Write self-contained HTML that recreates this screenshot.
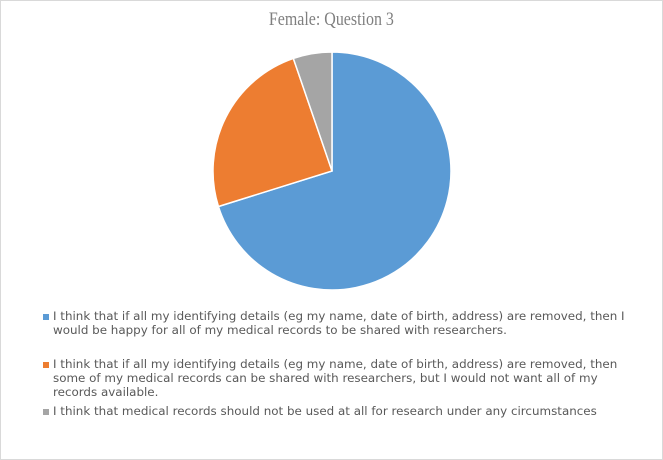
<!DOCTYPE html>
<html><head><meta charset="utf-8"><style>
body{margin:0;background:#fff;}
#c{position:relative;width:661px;height:458px;border:1px solid #d9d9d9;background:#fff;overflow:hidden;font-family:"DejaVu Sans","Liberation Sans",sans-serif;}
#title{position:absolute;left:0;width:661px;top:8px;text-align:center;font-family:"Liberation Serif",serif;font-size:19px;color:#7f7f7f;}
#title span{display:inline-block;transform:scaleX(0.84);}
.leg{position:absolute;left:52px;width:584px;font-size:11.9px;line-height:13.8px;color:#595959;}
.mk{position:absolute;left:-10px;top:4px;width:6px;height:6px;}
</style></head><body>
<div id="c">
<div id="title"><span>Female: Question 3</span></div>
<svg id="pie" width="661" height="300" style="position:absolute;left:0;top:0"></svg>
<div class="leg" style="top:309px"><div class="mk" style="background:#5b9bd5"></div>I think that if all my identifying details (eg my name, date of birth, address) are removed, then I would be happy for all of my medical records to be shared with researchers.</div>
<div class="leg" style="top:357px"><div class="mk" style="background:#ed7d31"></div>I think that if all my identifying details (eg my name, date of birth, address) are removed, then some of my medical records can be shared with researchers, but I would not want all of my records available.</div>
<div class="leg" style="top:404px"><div class="mk" style="background:#a5a5a5"></div>I think that medical records should not be used at all for research under any circumstances</div>
</div>
<script>
const categories=["All records","Some records","Not at all"];
const values=[40,14,3];
const colors=["#5b9bd5","#ed7d31","#a5a5a5"];
const names=["slice-all-records","slice-some-records","slice-not-at-all"];
const svg=document.getElementById('pie');
const cx=331,cy=170,r=119;
const total=values.reduce((a,b)=>a+b,0);
let a0=0;
function pt(a){return [cx+r*Math.sin(a),cy-r*Math.cos(a)];}
values.forEach((v,i)=>{
  const a1=a0+v/total*2*Math.PI;
  const p0=pt(a0),p1=pt(a1);
  const large=(a1-a0)>Math.PI?1:0;
  const p=document.createElementNS('http://www.w3.org/2000/svg','path');
  p.setAttribute('d',`M${cx},${cy} L${p0[0]},${p0[1]} A${r},${r} 0 ${large} 1 ${p1[0]},${p1[1]} Z`);
  p.setAttribute('fill',colors[i]);
  p.setAttribute('stroke','#fff');
  p.setAttribute('stroke-width','1.5');
  
  
  svg.appendChild(p);
  a0=a1;
});
</script>
</body></html>
